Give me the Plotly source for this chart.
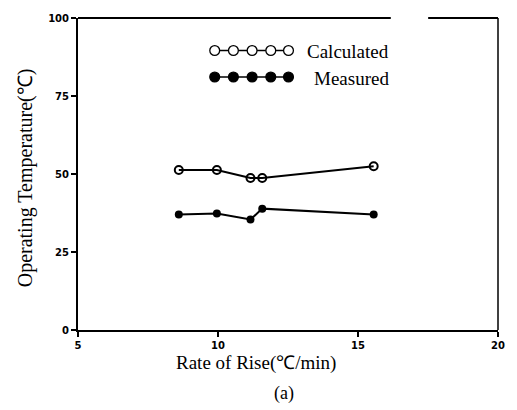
import plotly.graph_objects as go

rate_calc = [8.6, 9.96, 11.16, 11.58, 15.56]
temp_calc = [51.3, 51.3, 48.7, 48.7, 52.5]
rate_meas = [8.6, 9.96, 11.16, 11.58, 15.56]
temp_meas = [37.0, 37.3, 35.4, 38.9, 37.0]
x_ticks = [5, 10, 15, 20]
y_ticks = [0, 25, 50, 75, 100]

W, H = 517, 410
ML, MR, MT, MB = 78, 12, 13, 80
PW, PH = W - ML - MR, H - MT - MB

def px(x):
    return (x - ML) / PW

def py(y):
    return (H - MB - y) / PH

fig = go.Figure()
fig.add_trace(go.Scatter(x=rate_calc, y=temp_calc, mode="lines+markers", name="Calculated",
                         line=dict(color="black", width=2),
                         marker=dict(symbol="circle-open", size=8, color="black", line=dict(width=2))))
fig.add_trace(go.Scatter(x=rate_meas, y=temp_meas, mode="lines+markers", name="Measured",
                         line=dict(color="black", width=2),
                         marker=dict(symbol="circle", size=8, color="black")))

shapes = []
shapes.append(dict(type="line", xref="paper", yref="paper", x0=0, x1=px(396), y0=1, y1=1, line=dict(color="black", width=2)))
shapes.append(dict(type="line", xref="paper", yref="paper", x0=px(434), x1=1, y0=1, y1=1, line=dict(color="black", width=2)))
shapes.append(dict(type="line", xref="paper", yref="paper", x0=1, x1=1, y0=0, y1=1, line=dict(color="black", width=1.5)))

leg_x = [217, 236, 255, 274, 292]
r = 5
for row_y, filled in [(46, False), (73, True)]:
    shapes.append(dict(type="line", xref="paper", yref="paper", x0=px(213), x1=px(295),
                       y0=py(row_y), y1=py(row_y), line=dict(color="black", width=1.5)))
    for cx in leg_x:
        shapes.append(dict(type="circle", xref="paper", yref="paper",
                           x0=px(cx - r), x1=px(cx + r), y0=py(row_y + r), y1=py(row_y - r),
                           line=dict(color="black", width=1.3),
                           fillcolor="black" if filled else "white"))

serif = "Liberation Serif"
annotations = [
    dict(text="Calculated", xref="paper", yref="paper", x=px(309), y=py(47), xanchor="left", yanchor="middle",
         showarrow=False, font=dict(family=serif, size=19, color="black")),
    dict(text="Measured", xref="paper", yref="paper", x=px(316), y=py(74), xanchor="left", yanchor="middle",
         showarrow=False, font=dict(family=serif, size=19, color="black")),
    dict(text="Rate of Rise(℃/min)", xref="paper", yref="paper", x=px(259), y=py(364), xanchor="center", yanchor="middle",
         showarrow=False, font=dict(family=serif, size=19, color="black")),
    dict(text="Operating Temperature(℃)", xref="paper", yref="paper", x=px(25), y=py(175), xanchor="center", yanchor="middle",
         textangle=-90, showarrow=False, font=dict(family=serif, size=20, color="black")),
    dict(text="(a)", xref="paper", yref="paper", x=px(287), y=py(395), xanchor="center", yanchor="middle",
         showarrow=False, font=dict(family=serif, size=18, color="black")),
]

tickfont = dict(family="DejaVu Sans", size=10, color="black", weight="bold")
fig.update_layout(
    width=W, height=H,
    margin=dict(l=ML, r=MR, t=MT, b=MB),
    paper_bgcolor="white", plot_bgcolor="white",
    showlegend=False,
    shapes=shapes,
    annotations=annotations,
    xaxis=dict(range=[5, 20], tickvals=x_ticks, ticktext=[str(v) for v in x_ticks],
               showline=True, linecolor="black", linewidth=2, ticks="outside", ticklen=5,
               tickcolor="black", tickwidth=2, showgrid=False, zeroline=False, tickfont=tickfont),
    yaxis=dict(range=[0, 100], tickvals=y_ticks, ticktext=[str(v) for v in y_ticks],
               showline=True, linecolor="black", linewidth=2, ticks="outside", ticklen=5,
               tickcolor="black", tickwidth=2, showgrid=False, zeroline=False, tickfont=tickfont),
)

fig.write_html("out.html")
